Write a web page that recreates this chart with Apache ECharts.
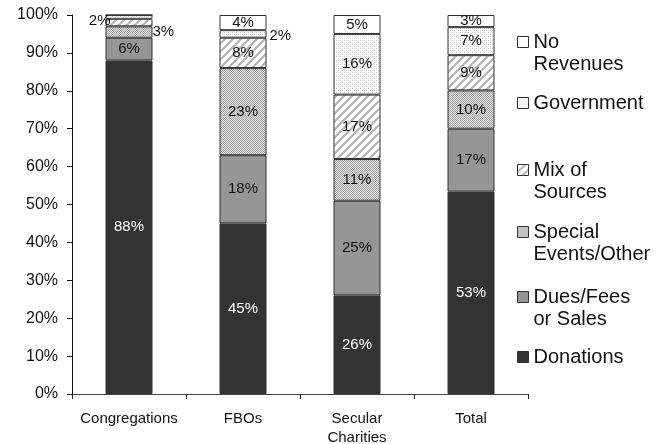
<!DOCTYPE html>
<html>
<head>
<meta charset="utf-8">
<script src="https://cdn.jsdelivr.net/npm/echarts@6/dist/echarts.min.js"></script>
<style>
html,body{margin:0;padding:0;background:#fff;}
#main{width:668px;height:444px;}
</style>
</head>
<body>
<div id="main"></div>
<script>
// ---- data ----
var categories = ['Congregations', 'FBOs', 'Secular\nCharities', 'Total'];
var seriesNames = ['Donations', 'Dues/Fees or Sales', 'Special Events/Other', 'Mix of Sources', 'Government', 'No Revenues'];
var donations   = [88, 45, 26, 53.4];
var duesFees    = [6, 18, 25, 16.6];
var specialEv   = [3, 23, 11, 10.1];
var mixSources  = [2, 8, 17, 9.3];
var government  = [1, 2, 16, 7.4];
var noRevenues  = [0, 4, 5, 3.2];
var yTicks = [0, 10, 20, 30, 40, 50, 60, 70, 80, 90, 100];
var legendLabels = ['Donations', 'Dues/Fees\nor Sales', 'Special\nEvents/Other', 'Mix of\nSources', 'Government', 'No\nRevenues'];

var seriesValues = [donations, duesFees, specialEv, mixSources, government, noRevenues];

// ---- patterns ----
function makeCanvas(w, h, draw) {
  var c = document.createElement('canvas');
  c.width = w; c.height = h;
  var ctx = c.getContext('2d');
  draw(ctx, w, h);
  return { image: c, repeat: 'repeat' };
}
var checkerFill = makeCanvas(2, 2, function (ctx) {
  ctx.fillStyle = '#e4e4e4'; ctx.fillRect(0, 0, 2, 2);
  ctx.fillStyle = '#a2a2a2'; ctx.fillRect(0, 0, 1, 1); ctx.fillRect(1, 1, 1, 1);
});
var hatchFill = makeCanvas(8, 8, function (ctx) {
  ctx.fillStyle = '#ffffff'; ctx.fillRect(0, 0, 8, 8);
  ctx.strokeStyle = '#b4b4b4'; ctx.lineWidth = 2.2;
  ctx.beginPath();
  ctx.moveTo(-2, 10); ctx.lineTo(10, -2);
  ctx.moveTo(-10, 10); ctx.lineTo(2, -2);
  ctx.moveTo(6, 10); ctx.lineTo(18, -2);
  ctx.stroke();
});
var dotFill = makeCanvas(4, 4, function (ctx) {
  ctx.fillStyle = '#ffffff'; ctx.fillRect(0, 0, 4, 4);
  ctx.fillStyle = '#c8c8c8'; ctx.fillRect(0, 0, 1, 1); ctx.fillRect(2, 2, 1, 1);
  ctx.fillStyle = '#e0e0e0'; ctx.fillRect(2, 0, 1, 1); ctx.fillRect(0, 2, 1, 1);
});
var fills = ['#333333', '#969696', checkerFill, hatchFill, dotFill, '#ffffff'];
var labelColors = ['#ffffff', '#111', '#111', '#111', '#111', '#111'];

// labels placed outside the bar for tiny segments
var outside = {
  'Mix of Sources|0': { position: 'left', distance: -5, offset: [0, -2] },
  'Special Events/Other|0': { position: 'right', distance: 0, offset: [0, 0] },
  'Government|1': { position: 'right', distance: 3, offset: [0, 2] }
};

var series = seriesNames.map(function (name, si) {
  return {
    name: name,
    type: 'bar',
    stack: 'all',
    barWidth: 47,
    itemStyle: { color: fills[si], borderColor: '#333', borderWidth: 1 },
    label: {
      show: true,
      position: 'inside',
      color: labelColors[si],
      fontFamily: 'Liberation Sans',
      fontSize: 15,
      formatter: function (p) { return p.value < 1.5 ? '' : Math.round(p.value) + '%'; }
    },
    data: seriesValues[si].map(function (v, ci) {
      var o = outside[name + '|' + ci];
      var item = { value: v };
      if (o) item.label = { position: o.position, distance: o.distance, offset: o.offset, color: '#111' };
      return item;
    })
  };
});

// legends: one per entry, top-to-bottom reversed
var iconCenters = [357, 297, 232, 170, 103, 42];
var LH = 22;
var legends = seriesNames.map(function (name, si) {
  var lines = legendLabels[si].split('\n').length;
  var top = lines === 2 ? iconCenters[si] - 1.5 * LH : iconCenters[si] - LH / 2;
  var txt = lines === 2 ? '\u00a0\n' + legendLabels[si] : legendLabels[si];
  return {
    data: [{ name: name, icon: 'rect' }],
    left: 517,
    top: top,
    padding: 0,
    itemWidth: 11,
    itemHeight: 11,
    selectedMode: false,
    formatter: function () { return txt; },
    textStyle: {
      fontFamily: 'Liberation Sans',
      fontSize: 20,
      color: '#111',
      lineHeight: LH
    },
    itemStyle: { borderColor: '#333', borderWidth: 1 }
  };
});

var chart = echarts.init(document.getElementById('main'), null, { renderer: 'canvas' });
chart.setOption({
  animation: false,
  backgroundColor: '#ffffff',
  grid: { left: 72, top: 15, right: 140, bottom: 50, containLabel: false, outerBoundsMode: 'none' },
  legend: legends,
  xAxis: {
    type: 'category',
    data: categories,
    axisLine: { lineStyle: { color: '#444', width: 1 } },
    axisTick: { show: true, interval: 0, alignWithLabel: false, length: 5, lineStyle: { color: '#222' } },
    axisLabel: { interval: 0, fontFamily: 'Liberation Sans', fontSize: 15, color: '#111', margin: 15, lineHeight: 19 }
  },
  yAxis: {
    type: 'value',
    min: yTicks[0],
    max: yTicks[yTicks.length - 1],
    interval: yTicks[1] - yTicks[0],
    axisLine: { show: true, lineStyle: { color: '#111', width: 1 } },
    axisTick: { show: true, length: 5, lineStyle: { color: '#111' } },
    splitLine: { show: false },
    axisLabel: { fontFamily: 'Liberation Sans', fontSize: 16, color: '#111', margin: 14, padding: [3, 0, 0, 0], formatter: '{value}%' }
  },
  series: series
});
</script>
</body>
</html>
